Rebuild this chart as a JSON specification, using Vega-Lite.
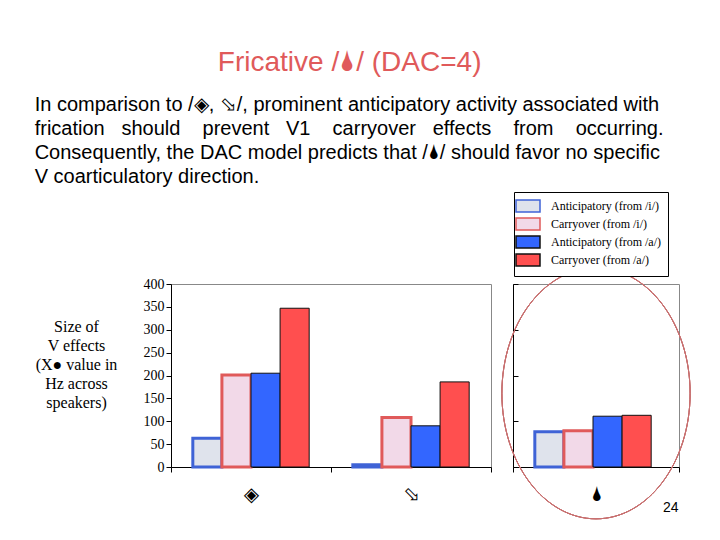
{
  "$schema": "https://vega.github.io/schema/vega-lite/v6.json",
  "background": "white",
  "padding": {"left": 34, "top": 49, "right": 5, "bottom": 5},
  "title": {
    "text": "Fricative /🌢/ (DAC=4)",
    "font": "Liberation Sans",
    "fontSize": 28,
    "fontWeight": "normal",
    "color": "#e05a5a",
    "anchor": "middle",
    "dx": -14,
    "offset": 18
  },
  "datasets": {
    "effects": [
      {"phoneme": "◈", "series": "Anticipatory (from /i/)", "value": 63},
      {"phoneme": "◈", "series": "Carryover (from /i/)", "value": 201},
      {"phoneme": "◈", "series": "Anticipatory (from /a/)", "value": 205},
      {"phoneme": "◈", "series": "Carryover (from /a/)", "value": 347},
      {"phoneme": "⬂", "series": "Anticipatory (from /i/)", "value": 5},
      {"phoneme": "⬂", "series": "Carryover (from /i/)", "value": 108},
      {"phoneme": "⬂", "series": "Anticipatory (from /a/)", "value": 90},
      {"phoneme": "⬂", "series": "Carryover (from /a/)", "value": 186},
      {"phoneme": "🌢", "series": "Anticipatory (from /i/)", "value": 77},
      {"phoneme": "🌢", "series": "Carryover (from /i/)", "value": 79},
      {"phoneme": "🌢", "series": "Anticipatory (from /a/)", "value": 111},
      {"phoneme": "🌢", "series": "Carryover (from /a/)", "value": 113}
    ]
  },
  "vconcat": [
    {
      "title": {
        "text": [
          "In comparison to /◈, ⬂/, prominent anticipatory activity associated with",
          "frication\u00a0\u00a0\u00a0should\u00a0\u00a0\u00a0\u00a0prevent\u00a0\u00a0\u00a0V1\u00a0\u00a0\u00a0\u00a0carryover\u00a0\u00a0\u00a0effects\u00a0\u00a0\u00a0\u00a0from\u00a0\u00a0\u00a0\u00a0occurring.",
          "Consequently, the DAC model predicts that /🌢/ should favor no specific",
          "V coarticulatory direction."
        ],
        "anchor": "start",
        "font": "Liberation Sans",
        "fontSize": 20,
        "fontWeight": "normal",
        "color": "black",
        "lineHeight": 24,
        "offset": 4
      },
      "spacing": 7,
      "resolve": {"legend": {"fill": "independent", "stroke": "independent"}},
      "hconcat": [
        {
          "width": 320,
          "height": 183,
          "data": {"name": "effects"},
          "transform": [{"filter": {"field": "phoneme", "oneOf": ["◈", "⬂"]}}],
          "mark": {"type": "bar"},
          "encoding": {
            "x": {
              "field": "phoneme",
              "type": "nominal",
              "sort": ["◈", "⬂"],
              "scale": {"paddingInner": 0, "paddingOuter": 0},
              "axis": {"title": null, "labelAngle": 0, "tickBand": "extent", "labelFont": "DejaVu Sans", "labelFontSize": 20, "labelPadding": 12, "tickSize": 5}
            },
            "xOffset": {
              "field": "series",
              "sort": ["Anticipatory (from /i/)", "Carryover (from /i/)", "Anticipatory (from /a/)", "Carryover (from /a/)"],
              "scale": {"paddingInner": 0, "paddingOuter": 0.75}
            },
            "y": {
              "field": "value",
              "type": "quantitative",
              "scale": {"domain": [0, 400]},
              "axis": {
                "values": [0, 50, 100, 150, 200, 250, 300, 350, 400],
                "grid": false,
                "labelFont": "Liberation Serif",
                "labelFontSize": 14,
                "labelColor": "black",
                "tickSize": 5,
                "title": ["Size of", "V effects", "(X● value in", "Hz across", "speakers)"],
                "titleAngle": 0,
                "titleAlign": "center",
                "titleBaseline": "top",
                "titleFont": "Liberation Serif",
                "titleFontSize": 16,
                "titleFontWeight": "normal",
                "titleLineHeight": 19,
                "titleX": -95,
                "titleY": 34
              }
            },
            "fill": {
              "field": "series",
              "scale": {
                "domain": ["Anticipatory (from /i/)", "Carryover (from /i/)", "Anticipatory (from /a/)", "Carryover (from /a/)"],
                "range": ["#dfe3ec", "#f2d9e8", "#3366ff", "#ff4f4f"]
              },
              "legend": null
            },
            "stroke": {
              "field": "series",
              "scale": {
                "domain": ["Anticipatory (from /i/)", "Carryover (from /i/)", "Anticipatory (from /a/)", "Carryover (from /a/)"],
                "range": ["#3f63d6", "#e05a5a", "#111111", "#111111"]
              },
              "legend": null
            },
            "strokeWidth": {"condition": {"test": "indexof(datum.series, '/i/') >= 0", "value": 3}, "value": 1}
          }
        },
        {
          "width": 166,
          "height": 183,
          "data": {"name": "effects"},
          "transform": [{"filter": {"field": "phoneme", "equal": "🌢"}}],
          "layer": [
            {
              "mark": {"type": "bar"},
              "encoding": {
                "x": {
                  "field": "phoneme",
                  "type": "nominal",
                  "scale": {"paddingInner": 0, "paddingOuter": 0},
                  "axis": {
                    "labelAngle": 0, "tickBand": "extent", "labelFont": "DejaVu Sans", "labelFontSize": 20, "labelPadding": 12, "tickSize": 5,
                    "title": "24", "titleFont": "Liberation Sans", "titleFontSize": 14, "titleFontWeight": "normal",
                    "titleAlign": "right", "titleX": 165, "titleY": 33
                  }
                },
                "xOffset": {
                  "field": "series",
                  "sort": ["Anticipatory (from /i/)", "Carryover (from /i/)", "Anticipatory (from /a/)", "Carryover (from /a/)"],
                  "scale": {"paddingInner": 0, "paddingOuter": 0.96}
                },
                "y": {
                  "field": "value",
                  "type": "quantitative",
                  "scale": {"domain": [0, 400]},
                  "axis": {"values": [0, 50, 100, 150, 200, 250, 300, 350, 400], "grid": false, "labels": false, "title": null, "tickSize": -5, "minExtent": 0}
                },
                "fill": {
                  "field": "series",
                  "legend": {
                    "orient": "none", "legendX": 1, "legendY": -92, "title": null,
                    "symbolType": "M-2,-1H2V1H-2Z", "symbolSize": 144, "symbolStrokeWidth": 1.5,
                    "labelFont": "Liberation Serif", "labelFontSize": 12, "labelColor": "black", "labelOffset": 16, "labelLimit": 200,
                    "strokeColor": "black", "fillColor": "white", "padding": 7, "rowPadding": 0
                  }
                },
                "stroke": {
                  "field": "series",
                  "legend": {
                    "orient": "none", "legendX": 1, "legendY": -92, "title": null,
                    "symbolType": "M-2,-1H2V1H-2Z", "symbolSize": 144, "symbolStrokeWidth": 1.5,
                    "labelFont": "Liberation Serif", "labelFontSize": 12, "labelColor": "black", "labelOffset": 16, "labelLimit": 200,
                    "strokeColor": "black", "fillColor": "white", "padding": 7, "rowPadding": 0
                  }
                },
                "strokeWidth": {"condition": {"test": "indexof(datum.series, '/i/') >= 0", "value": 3}, "value": 1}
              }
            },
            {
              "mark": {
                "type": "point",
                "shape": "M-0.75,0A0.75,1 0 1,0 0.75,0A0.75,1 0 1,0 -0.75,0Z",
                "filled": false,
                "stroke": "#c87070",
                "strokeWidth": 1,
                "opacity": 1
              },
              "encoding": {
                "x": {"datum": "🌢", "type": "nominal"},
                "y": {"datum": 161, "type": "quantitative"},
                "size": {"value": 63000}
              }
            }
          ]
        }
      ]
    }
  ],
  "config": {
    "view": {"stroke": "#888888"},
    "axis": {"domainColor": "black", "tickColor": "black", "labelColor": "black"}
  }
}
